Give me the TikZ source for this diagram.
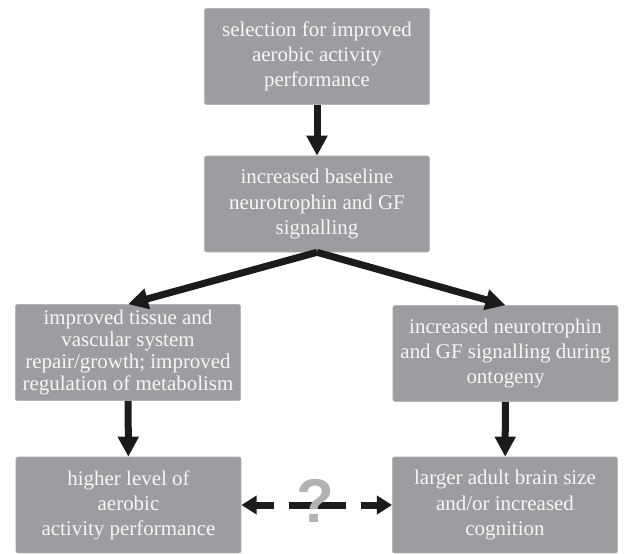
\documentclass[tikz,border=0pt]{standalone}
\usepackage{fontspec}
\setmainfont{Liberation Serif}
\newfontfamily\qfont{Liberation Sans}
\usetikzlibrary{arrows.meta}
\definecolor{boxgray}{HTML}{9C9DA0}
\definecolor{boxedge}{HTML}{B4B5B7}
\definecolor{boxtext}{HTML}{F6F6F6}
\definecolor{arrowblack}{HTML}{1C1B1B}
\definecolor{qgray}{HTML}{B2B2B4}
\begin{document}
\begin{tikzpicture}[x=0.025cm, y=-0.025cm,
    stagebox/.style={rectangle, fill=boxgray, draw=boxedge, line width=0.4pt, rounded corners=1.5pt,
        minimum width=5.63cm, minimum height=2.4cm, align=center, text=boxtext,
        font=\fontsize{14.9}{17.8}\selectfont},
    flow/.style={draw=arrowblack, line width=0.175cm, -{Triangle[length=0.5cm, width=0.5cm]}},
    maybe/.style={draw=arrowblack, line width=0.175cm, {Triangle[length=0.38cm, width=0.45cm]}-{Triangle[length=0.38cm, width=0.45cm]},
        dash pattern=on 0.45cm off 0.375cm on 1.425cm off 0.375cm on 1cm}]
    \useasboundingbox (0,0) rectangle (624,553);
    \node[stagebox] (sel) at (317,56.5) {selection for improved\\aerobic activity\\performance};
    \node[stagebox] (base) at (317,204) {increased baseline\\neurotrophin and GF\\signalling};
    \node[stagebox, font=\fontsize{14.9}{15.6}\selectfont] (repair) at (128,352.5) {improved tissue and\\vascular system\\repair/growth; improved\\regulation of metabolism};
    \node[stagebox] (onto) at (505.5,353.5) {increased neurotrophin\\and GF signalling during\\ontogeny};
    \node[stagebox] (aer) at (128.5,505) {higher level of\\aerobic\\activity performance};
    \node[stagebox] (brain) at (505,505) {larger adult brain size\\and/or increased\\cognition};
    \draw[flow] (sel) -- (base);
    \draw[flow] (base.south) -- (repair.north);
    \draw[flow] (base.south) -- (onto.north);
    \draw[flow] (repair) -- (aer);
    \draw[flow] (onto) -- (brain);
    \draw[maybe] (aer.east) -- (brain.west);
    \node[text=qgray, font=\qfont\bfseries\fontsize{44}{44}\selectfont, inner sep=0pt] (q) at (315,501) {?};
\end{tikzpicture}
\end{document}
